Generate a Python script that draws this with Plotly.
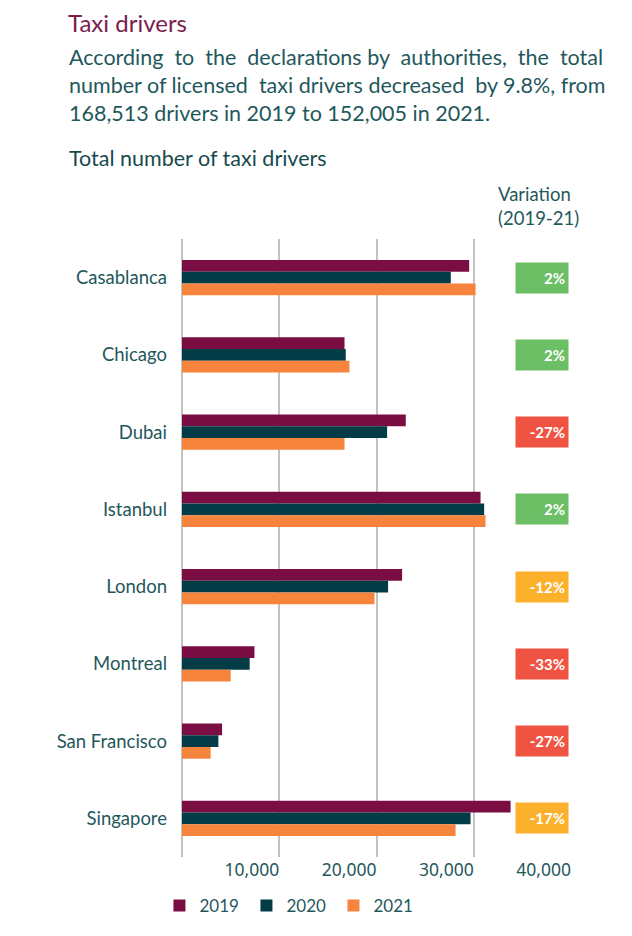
import plotly.graph_objects as go

cities = ["Casablanca", "Chicago", "Dubai", "Istanbul", "London",
          "Montreal", "San Francisco", "Singapore"]
drivers_2019 = [29530, 16710, 23010, 30700, 22630, 7450, 4120, 33790]
drivers_2020 = [27640, 16840, 21090, 31070, 21190, 6960, 3740, 29670]
drivers_2021 = [30180, 17220, 16710, 31210, 19790, 5010, 2950, 28130]
variation = ["2%", "2%", "-27%", "2%", "-12%", "-33%", "-27%", "-17%"]

title = "Taxi drivers"
intro = ["According to the declarations by authorities, the total",
         "number of licensed taxi drivers decreased by 9.8%, from",
         "168,513 drivers in 2019 to 152,005 in 2021."]
subtitle = "Total number of taxi drivers"

teal_text = "#1f585c"
font_name = "Lato"
NB = "\u00a0"

# the page puts the figure 8px in from the top-left corner of the window
OFF = 8
W, H = 632 - OFF, 936 - OFF
# plot area, in window pixels
L, R, T, B = 182, 571, 239, 857


def px_x(px):
    return (px - L) / (R - L)


def px_y(py):
    return (B - py) / (B - T)


def box_colour(v):
    n = int(v.strip("%"))
    if n >= 0:
        return "#6dbf66"
    if n > -20:
        return "#fbb12b"
    return "#ef5341"


def justify(line, extra):
    # add a few no-break spaces to the gaps so the line fills the column
    words = line.split(" ")
    gaps = len(words) - 1
    out = words[0]
    for i, w in enumerate(words[1:]):
        n = int(round((i + 1) * extra / gaps)) - int(round(i * extra / gaps))
        out += " " + NB * n + w
    return out


fig = go.Figure()
for name, vals, col in [("2019", drivers_2019, "#7a0d42"),
                        ("2020", drivers_2020, "#033c46"),
                        ("2021", drivers_2021, "#f6843c")]:
    fig.add_trace(go.Bar(y=cities, x=vals, name=name, orientation="h",
                         marker=dict(color=col, line=dict(width=0))))

# variation boxes on the right
for city, v in zip(cities, variation):
    fig.add_annotation(x=px_x(569), xref="paper", xanchor="right",
                       y=city, yref="y", yanchor="middle",
                       text="<b>" + v + "</b>", showarrow=False,
                       width=46, height=24, borderpad=3, align="right",
                       bgcolor=box_colour(v),
                       font=dict(family=font_name, size=15, color="white"))


def text_at(txt, px, py, size, col, **kw):
    fig.add_annotation(x=px_x(px), xref="paper", xanchor="left",
                       y=px_y(py), yref="paper", yanchor="middle",
                       text=txt, showarrow=False,
                       font=dict(family=font_name, size=size, color=col), **kw)


text_at(title, 67, 22, 24, "#7b1d4c", height=28, borderpad=0)
text_at(justify(intro[0], 6), 67, 57, 21.5, teal_text)
text_at(justify(intro[1], 2), 67, 85, 21.5, teal_text)
text_at(intro[2], 67, 113, 21.5, teal_text)
text_at(subtitle, 67, 158, 21.5, "#174a4e")

fig.add_annotation(x=px_x(496), xref="paper", xanchor="left",
                   y=px_y(206), yref="paper", yanchor="middle",
                   text="Variation<br>(2019-21)", showarrow=False, align="left",
                   font=dict(family=font_name, size=18.5, color=teal_text))

fig.update_layout(
    width=W, height=H,
    margin=dict(l=L - OFF, r=W - (R - OFF), t=T - OFF, b=H - (B - OFF)),
    paper_bgcolor="white", plot_bgcolor="white",
    barmode="group", bargap=0.545, bargroupgap=0,
    font=dict(family=font_name, color=teal_text),
    legend=dict(orientation="h", x=-0.058, xanchor="left", y=px_y(906), yanchor="middle",
                font=dict(size=17, color=teal_text), entrywidth=42,
                itemwidth=30, tracegroupgap=0),
)
fig.update_xaxes(range=[0, 40000], tickvals=[10000, 20000, 30000, 40000],
                 ticktext=["10,000", "20,000", "30,000", "40,000"],
                 ticklabelposition="outside left", automargin=False,
                 showgrid=True, gridcolor="#c2c2c2", gridwidth=2,
                 zeroline=True, zerolinecolor="#c2c2c2", zerolinewidth=2,
                 tickfont=dict(family="Noto Sans", size=17.5, color=teal_text),
                 showline=False, ticks="")
fig.update_yaxes(autorange="reversed", showgrid=False, ticks="",
                 ticklabelstandoff=14, automargin=False,
                 tickfont=dict(family=font_name, size=18.5, color=teal_text))

fig.write_html("out.html")
